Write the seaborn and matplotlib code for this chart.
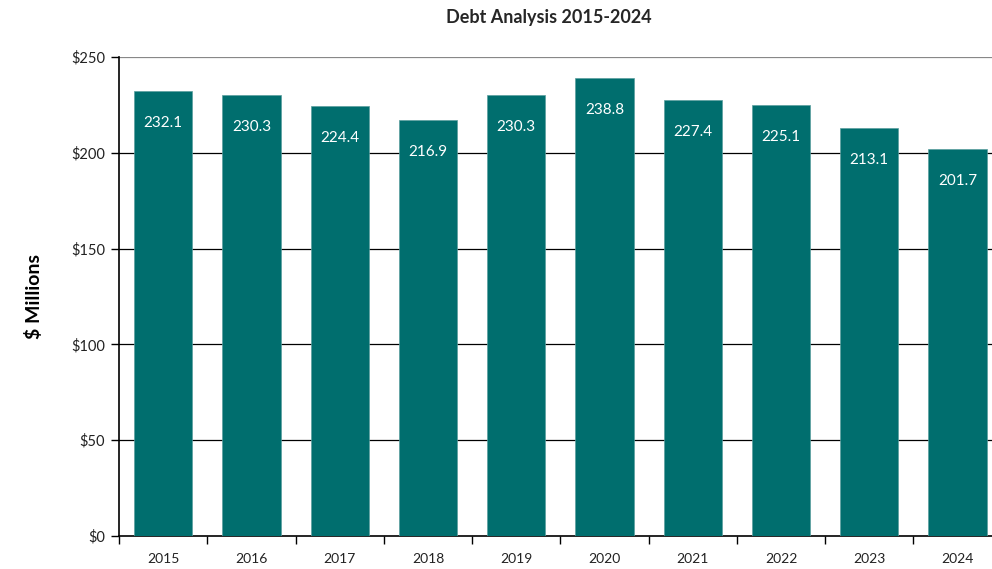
import matplotlib
matplotlib.use("Agg")
import matplotlib.pyplot as plt
import seaborn as sns
import pandas as pd
import numpy as np

years = ["2015", "2016", "2017", "2018", "2019", "2020", "2021", "2022", "2023", "2024"]
debt = [232.1, 230.3, 224.4, 216.9, 230.3, 238.8, 227.4, 225.1, 213.1, 201.7]
y_ticks = [0, 50, 100, 150, 200, 250]
y_tick_labels = ["$0", "$50", "$100", "$150", "$200", "$250"]

sns.set_theme(style="white")
plt.rcParams["font.family"] = ["Lato", "DejaVu Sans"]

df = pd.DataFrame({"Year": years, "Debt": debt})

fig = plt.figure(figsize=(9.92, 5.69), dpi=100)
ax = fig.add_axes([0.12, 0.058, 0.88, 0.842])

sns.barplot(data=df, x="Year", y="Debt", color="#006E6E", saturation=1,
            width=0.66, ax=ax, zorder=3, edgecolor="#5A9E9E", linewidth=0.5)

# value labels inside the top of each bar
for i, v in enumerate(debt):
    ax.annotate(f"{v:.1f}", xy=(i, v), xytext=(0, -23), textcoords="offset points",
                ha="center", va="center", color="white", fontsize=11, zorder=4)

ax.set_yticks(y_ticks)
ax.set_yticklabels(y_tick_labels, fontsize=10.5, color="#222222")
for t in ax.get_xticklabels():
    t.set_fontsize(10)
    t.set_color("#222222")

# horizontal gridlines
for yv in y_ticks[1:]:
    ax.axhline(yv, color="#000000" if yv < 250 else "#888888", linewidth=0.9, zorder=1)

# category-boundary tick marks on the x axis
ax.set_xticks(np.arange(-0.5, 9.0, 1.0), minor=True)
ax.tick_params(axis="x", which="major", length=0, pad=12)
ax.tick_params(axis="x", which="minor", length=6, width=1, color="black", direction="out", bottom=True)
ax.tick_params(axis="y", length=6, width=1, color="black", direction="out", left=True, pad=4)

ax.set_ylim(0, 250)
ax.set_xlim(-0.5, 9.39)

for side in ["top", "right"]:
    ax.spines[side].set_visible(False)
for side in ["left", "bottom"]:
    ax.spines[side].set_color("black")
    ax.spines[side].set_linewidth(1.2)

ax.set_xlabel("")
ax.set_ylabel("$ Millions", fontsize=14, fontweight="bold", labelpad=20, color="black")
fig.suptitle("Debt Analysis 2015-2024", fontsize=13, fontweight="bold", y=0.985, x=0.553)

fig.savefig("out.png", dpi=100)
